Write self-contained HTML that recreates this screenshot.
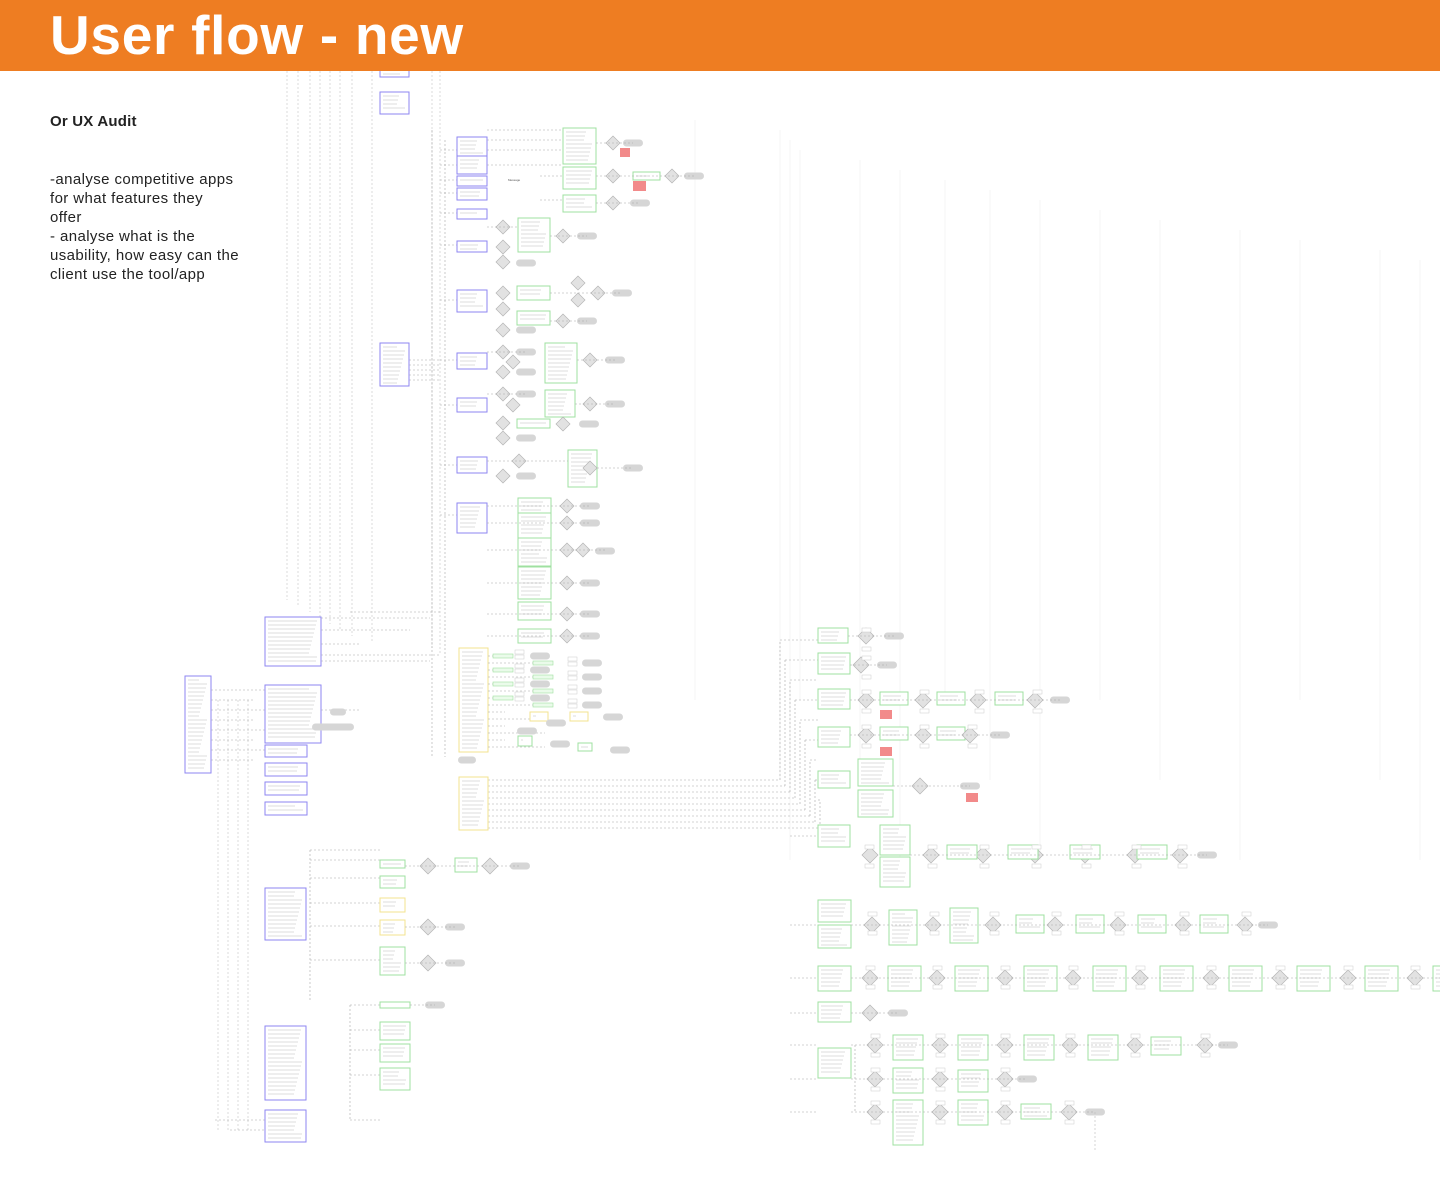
<!DOCTYPE html>
<html><head><meta charset="utf-8">
<style>
html,body{margin:0;padding:0;background:#fff;width:1440px;height:1200px;overflow:hidden;font-family:"Liberation Sans",sans-serif}
#hdr{position:absolute;left:0;top:0;width:1440px;height:71px;background:#EE7D22}
#hdr h1{position:absolute;left:50px;top:2px;margin:0;color:#fff;font-size:55px;font-weight:bold;letter-spacing:0.7px;line-height:66px}
#t1{position:absolute;left:50px;top:113px;font-size:15px;font-weight:bold;color:#222;letter-spacing:0.2px}
#t2{position:absolute;left:50px;top:170px;white-space:nowrap;font-size:15px;line-height:19px;color:#222;letter-spacing:0.4px}
svg{position:absolute;left:0;top:0}
</style></head><body>
<svg id="s" width="1440" height="1200" viewBox="0 0 1440 1200"></svg>
<div id="hdr"><h1>User flow - new</h1></div>
<div id="t1">Or UX Audit</div>
<div id="t2">-analyse competitive apps<br>for what features they<br>offer<br>- analyse what is the<br>usability, how easy can the<br>client use the tool/app</div>
<script>
var s=document.getElementById('s'),o='';
var PU='#8e86f2',GR='#9fe0a0',YE='#f3e38f';
function L(pts,c,d){o+='<polyline points="'+pts+'" fill="none" stroke="'+(c||'#a8a8a8')+'" stroke-width="0.6" stroke-dasharray="'+(d||'2,2')+'"/>';}
function V(x,y1,y2,c){L(x+','+y1+' '+x+','+y2,c);}
function H(y,x1,x2,c){L(x1+','+y+' '+x2+','+y,c);}
function B(x,y,w,h,c){o+='<rect x="'+x+'" y="'+y+'" width="'+w+'" height="'+h+'" fill="#fff" stroke="'+c+'" stroke-width="1"/>';
 for(var yy=y+4;yy<y+h-2;yy+=4){o+='<line x1="'+(x+3)+'" y1="'+yy+'" x2="'+(x+w-4-((yy*7)%9))+'" y2="'+yy+'" stroke="#d0d0d0" stroke-width="0.7"/>';}}
function D(cx,cy,r){r=r||8;o+='<polygon points="'+cx+','+(cy-r)+' '+(cx+r)+','+cy+' '+cx+','+(cy+r)+' '+(cx-r)+','+cy+'" fill="#e2e2e2" stroke="#b5b5b5" stroke-width="0.7"/>';}
function P(cx,cy,w){w=w||20;o+='<rect x="'+(cx-w/2)+'" y="'+(cy-3.5)+'" width="'+w+'" height="7" rx="3.5" fill="#d6d6d6"/>';}
function R(x,y,w,h){o+='<rect x="'+x+'" y="'+y+'" width="'+w+'" height="'+h+'" fill="#f28a8a"/>';}
function T(x,y){o+='<rect x="'+x+'" y="'+y+'" width="9" height="4" fill="#fff" stroke="#ccc" stroke-width="0.5"/>';}
[287,298,310,320,330,340,352,372,432,440].forEach(function(x,i){V(x,71,600+i*6,'#c4c4c4');});
[218,228,238,248].forEach(function(x,i){V(x,700,1130,'#c4c4c4');});
[695,780,790,800,860,900,945,990,1040,1100,1160,1240,1300,1380,1420].forEach(function(x,i){o+='<line x1="'+x+'" y1="'+(120+i*10)+'" x2="'+x+'" y2="'+(700+(i%3)*80)+'" stroke="#efefef" stroke-width="0.7"/>';});
H(612,350,440);H(618,321,430);H(630,321,410);H(644,321,360);H(655,321,440);H(661,321,430);
[690,700,710,720,730,740,750,760].forEach(function(y,i){H(y,211,265-(i%2)*10);});
H(710,321,360);H(725,307,355);V(432,130,757);V(445,140,757);
[150,165,180,193,213,245,300,360,405,465,515].forEach(function(y){H(y,440,457);});
[360,365,370,375,380].forEach(function(y){H(y,409,440);});
[130,140,150,165].forEach(function(y){H(y,487,563);});
H(176,540,563);H(200,540,563);
[780,786,792,798,804,810,816,822,828].forEach(function(y,i){H(y,488,780+i*5);V(780+i*5,y,640+i*20);H(640+i*20,780+i*5,818);});
[860,878,903,926,960].forEach(function(y){H(y,310,380);});V(310,850,1000);H(850,310,380);
[1005,1030,1050,1075,1120].forEach(function(y){H(y,350,380);});V(350,1005,1120);
H(1120,215,265);H(1130,230,265);
[836,925,978,1013,1045,1079,1112].forEach(function(y){H(y,790,818);});
B(185,676,26,97,PU);
B(265,617,56,49,PU);B(265,685,56,58,PU);B(265,745,42,12,PU);B(265,763,42,13,PU);B(265,782,42,13,PU);B(265,802,42,13,PU);
B(265,888,41,52,PU);B(265,1026,41,74,PU);B(265,1110,41,32,PU);
B(380,66,29,11,PU);B(380,92,29,22,PU);B(380,343,29,43,PU);
[[137,19],[156,18],[176,10],[188,12],[209,10],[241,11],[290,22],[353,16],[398,14],[457,16],[503,30]].forEach(function(a){B(457,a[0],30,a[1],PU);});
P(338,712,16);P(333,727,42);
[[563,128,33,36],[563,167,33,22],[563,195,33,17],[518,218,32,34],[517,286,33,14],[517,311,33,14],[545,343,32,40],[545,390,30,27],[517,419,33,9],[568,450,29,37],[518,498,33,15],[518,513,33,26],[518,538,33,28],[518,567,33,32],[518,602,33,18],[518,629,33,14],[633,172,27,8]].forEach(function(a){B(a[0],a[1],a[2],a[3],GR);});
R(620,148,10,9);R(633,181,13,10);
[[613,143],[613,176],[613,203],[672,176],[503,227],[503,247],[503,262],[563,236],[503,293],[503,309],[503,330],[578,283],[578,300],[598,293],[563,321],[503,352],[513,362],[503,372],[590,360],[503,394],[513,405],[503,423],[563,424],[503,438],[590,404],[519,461],[503,476],[590,468],[567,506],[567,523],[567,550],[583,550],[567,583],[567,614],[567,636]].forEach(function(a){D(a[0],a[1],7);});
[[633,143],[694,176],[640,203],[526,263],[587,236],[526,330],[622,293],[587,321],[526,352],[526,372],[615,360],[526,394],[526,438],[615,404],[589,424],[526,476],[633,468],[590,506],[590,523],[605,551],[590,583],[590,614],[590,636]].forEach(function(a){P(a[0],a[1]);});
[[143,596,633],[176,596,694],[203,596,640],[236,550,587],[293,550,622],[321,550,587],[360,577,615],[404,575,615],[468,597,633],[506,487,590],[523,487,590],[550,487,605],[583,487,590],[614,487,590],[636,487,590],[227,487,518],[352,487,526],[394,487,526],[461,487,568]].forEach(function(a){H(a[0],a[1],a[2]);});
o+='<text x="508" y="181" font-size="3" fill="#555">Message</text>';
B(459,648,29,104,YE);B(459,777,29,53,YE);
P(467,760,18);
[656,663,670,677,684,691,698,705,712,719,726,733,740,747].forEach(function(y,i){
 H(y,488,505+(i%2)*40);
 if(i<8){o+='<rect x="'+(493+(i%2)*40)+'" y="'+(y-2)+'" width="20" height="4" fill="#eafbea" stroke="'+GR+'" stroke-width="0.6"/>';T(515+(i%2)*53,y-6);T(515+(i%2)*53,y-1);P(540+(i%2)*52,y);}
});
B(518,736,14,10,GR);B(578,743,14,8,GR);B(530,712,18,9,YE);B(570,712,18,9,YE);P(556,723);P(613,717);P(527,731);P(560,744);P(620,750);
B(818,628,30,15,GR);D(866,636);P(894,636);H(636,848,894);
B(818,653,32,21,GR);D(861,665);P(887,665);H(665,850,887);
B(818,689,32,20,GR);B(880,692,28,13,GR);B(937,692,28,13,GR);B(995,692,28,13,GR);[866,923,978,1035].forEach(function(x){D(x,700);});P(1060,700);H(700,850,1060);R(880,710,12,9);
B(818,727,32,20,GR);B(880,727,28,13,GR);B(937,727,28,13,GR);[866,923,970].forEach(function(x){D(x,735);});P(1000,735);H(735,850,1000);R(880,747,12,9);
B(818,771,32,17,GR);B(858,759,35,27,GR);B(858,790,35,27,GR);D(920,786);P(970,786);H(786,893,970);R(966,793,12,9);
B(818,825,32,22,GR);B(880,825,30,30,GR);B(880,857,30,30,GR);[870,931,983,1035,1085,1135,1180].forEach(function(x){D(x,855);});B(947,845,30,14,GR);B(1008,845,30,14,GR);B(1070,845,30,14,GR);B(1137,845,30,14,GR);P(1207,855);H(855,910,1207);
B(818,900,33,22,GR);B(818,925,33,23,GR);B(889,910,28,35,GR);B(950,908,28,35,GR);[1016,1076,1138,1200].forEach(function(x){B(x,915,28,18,GR);});[872,933,993,1055,1118,1183,1245].forEach(function(x){D(x,925);});P(1268,925);H(925,851,1268);
[818,888,955,1024,1093,1160,1229,1297,1365,1433].forEach(function(x){B(x,966,33,25,GR);});[870,937,1005,1073,1140,1211,1280,1348,1415].forEach(function(x){D(x,978);});H(978,851,1440);
B(818,1002,33,20,GR);D(870,1013);P(898,1013);H(1013,851,898);
B(818,1048,33,30,GR);[893,958,1024,1088].forEach(function(x){B(x,1035,30,25,GR);});B(1151,1037,30,18,GR);[875,940,1005,1070,1135,1205].forEach(function(x){D(x,1045);});P(1228,1045);H(1045,851,1228);
B(893,1068,30,25,GR);B(958,1070,30,22,GR);[875,940,1005].forEach(function(x){D(x,1079);});P(1027,1079);H(1079,851,1027);
B(893,1100,30,45,GR);B(958,1100,30,25,GR);B(1021,1104,30,15,GR);[875,940,1005,1069].forEach(function(x){D(x,1112);});P(1095,1112);H(1112,851,1095);
V(855,1045,1112);V(1095,1112,1150,'#bbb');
[[862,628],[862,656],[862,690],[920,690],[975,690],[1033,690],[862,725],[920,725],[968,725],[865,845],[928,845],[980,845],[1032,845],[1082,845],[1132,845],[1178,845],[868,912],[930,912],[990,912],[1052,912],[1115,912],[1180,912],[1242,912],[866,966],[933,966],[1001,966],[1069,966],[1136,966],[1207,966],[1276,966],[1344,966],[1411,966],[871,1034],[936,1034],[1001,1034],[1066,1034],[1131,1034],[1201,1034],[871,1068],[936,1068],[1001,1068],[871,1101],[936,1101],[1001,1101],[1065,1101]].forEach(function(a){T(a[0],a[1]);T(a[0],a[1]+19);});
[[380,860,25,8],[380,876,25,12],[455,858,22,14],[380,898,25,14],[380,920,25,15],[380,947,25,28],[380,1002,30,6],[380,1022,30,18],[380,1044,30,18],[380,1068,30,22]].forEach(function(a){B(a[0],a[1],a[2],a[3],a[1]==898||a[1]==920?YE:GR);});
D(428,866);D(490,866);D(428,927);D(428,963);P(520,866);P(455,927);P(455,963);P(435,1005);
H(866,405,520);H(927,405,455);H(963,405,455);H(1005,410,435);
s.innerHTML=o;
</script>
</body></html>
